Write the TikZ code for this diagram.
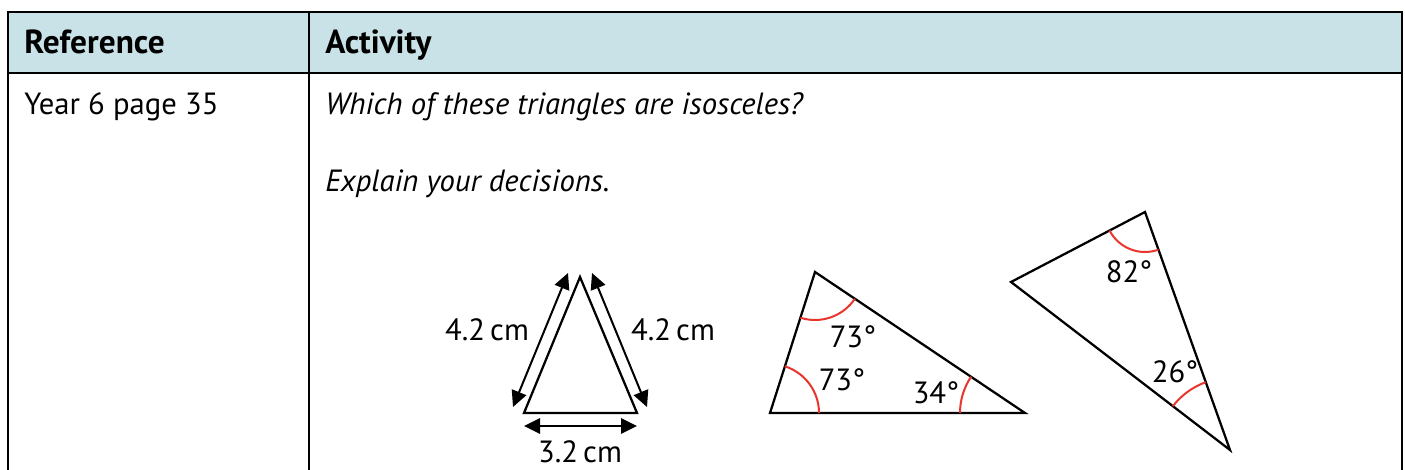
\documentclass[tikz,border=0pt]{standalone}
\usepackage{fontspec}
\setmainfont{PT Sans}
\usetikzlibrary{arrows.meta,angles}
\definecolor{headblue}{HTML}{C9E2E7}
\definecolor{arcred}{HTML}{E8352D}
\begin{document}
\begin{tikzpicture}[x=0.75pt, y=0.75pt, font=\fontsize{23}{27}\selectfont,
        rule/.style={line width=2.2pt},
        edge/.style={line width=1.7pt, line join=miter},
        dim/.style={line width=1.5pt, {Triangle[length=12pt,width=11.5pt]}-{Triangle[length=12pt,width=11.5pt]}},
        anglearc/.style={draw=arcred, line width=1.5pt},
        txt/.style={anchor=base west, inner sep=0pt}]
        \useasboundingbox (0,0) rectangle (1405,470);
        % table
        \fill[headblue] (8,458) rectangle (1402,397);
        \draw[rule] (8,0) -- (8,458) -- (1402,458) -- (1402,0);
        \draw[rule] (8,397) -- (1402,397);
        \draw[rule] (309,0) -- (309,458);
        \node[txt] (ref) at (24,416) {\fontsize{25}{29}\selectfont\bfseries Reference};
        \node[txt] (act) at (325,416) {\fontsize{25}{29}\selectfont\bfseries Activity};
        \node[txt] (year) at (24,355) {Year 6 page 35};
        \node[txt] (quest) at (325,355) {\itshape Which of these triangles are isosceles?};
        \node[txt] (expl) at (325,278) {\itshape Explain your decisions.};
        % isosceles triangle with lengths
        \coordinate (A1) at (580,193);
        \coordinate (B1) at (524,57);
        \coordinate (C1) at (637,57);
        \coordinate (L1) at (568,197);
        \coordinate (L2) at (513,63);
        \coordinate (R1) at (592,197);
        \coordinate (R2) at (647,63);
        \coordinate (D1) at (524,44);
        \coordinate (D2) at (637,44);
        \draw[edge] (A1) -- (B1) -- (C1) -- cycle;
        \draw[dim] (L1) -- (L2);
        \draw[dim] (R1) -- (R2);
        \draw[dim] (D1) -- (D2);
        \node (sL) at (487,140) {4.2\,cm};
        \node (sR) at (673,140) {4.2\,cm};
        \node (sB) at (580,18) {3.2\,cm};
        % triangle with 73, 73, 34
        \coordinate (A2) at (815,198);
        \coordinate (B2) at (770,57);
        \coordinate (C2) at (1025,57);
        \draw[edge] (A2) -- (B2) -- (C2) -- cycle;
        \pic[anglearc, angle radius=36.75pt] {angle = C2--B2--A2};
        \pic[anglearc, angle radius=36pt] {angle = B2--A2--C2};
        \pic[anglearc, angle radius=48.75pt] {angle = A2--C2--B2};
        \node (gA2) at (853,133) {73°};
        \node (gB2) at (842,90) {73°};
        \node (gC2) at (936,77) {34°};
        % triangle with 82, 26
        \coordinate (A3) at (1145,258);
        \coordinate (B3) at (1011,188);
        \coordinate (C3) at (1230,20);
        \draw[edge] (A3) -- (B3) -- (C3) -- cycle;
        \pic[anglearc, angle radius=30pt] {angle = B3--A3--C3};
        \pic[anglearc, angle radius=54pt] {angle = A3--C3--B3};
        \node (gA3) at (1129,198) {82°};
        \node (gC3) at (1175,98) {26°};
\end{tikzpicture}
\end{document}
